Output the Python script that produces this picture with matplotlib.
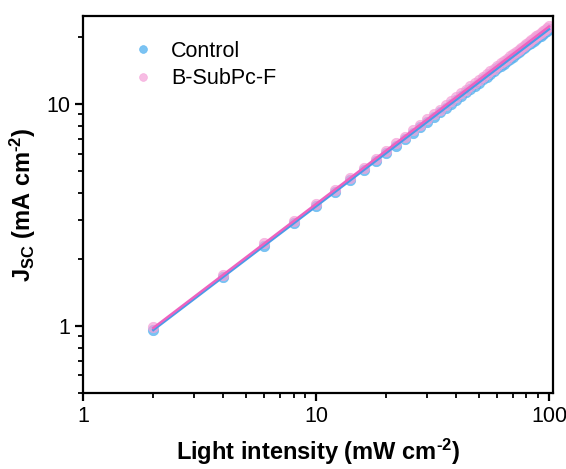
import matplotlib.pyplot as plt
import numpy as np

# light intensity (mW cm-2)
intensity = [2, 4, 6, 8, 10, 12, 14, 16, 18, 20, 22, 24, 26, 28, 30, 32, 34, 36, 38, 40,
             42, 44, 46, 48, 50, 52, 54, 56, 58, 60, 62, 64, 66, 68, 70, 72, 74, 76, 78, 80,
             82, 84, 86, 88, 90, 92, 94, 96, 98, 100]

# Jsc (mA cm-2)
jsc_control = [0.96, 1.67, 2.31, 2.91, 3.48, 4.02, 4.55, 5.05, 5.55, 6.03,
               6.51, 6.97, 7.44, 7.89, 8.34, 8.78, 9.21, 9.64, 10.07, 10.50,
               10.91, 11.32, 11.73, 12.14, 12.53, 12.94, 13.33, 13.72, 14.11, 14.50,
               14.88, 15.26, 15.64, 16.01, 16.40, 16.77, 17.14, 17.50, 17.88, 18.24,
               18.60, 18.96, 19.32, 19.68, 20.03, 20.38, 20.74, 21.09, 21.43, 21.81]
jsc_subpc = [0.99, 1.70, 2.36, 2.97, 3.55, 4.11, 4.65, 5.17, 5.68, 6.18,
             6.67, 7.15, 7.63, 8.09, 8.55, 9.01, 9.45, 9.89, 10.33, 10.77,
             11.20, 11.62, 12.04, 12.47, 12.87, 13.29, 13.69, 14.09, 14.49, 14.90,
             15.29, 15.68, 16.07, 16.45, 16.85, 17.23, 17.61, 17.98, 18.37, 18.74,
             19.11, 19.48, 19.85, 20.22, 20.58, 20.94, 21.31, 21.67, 22.02, 22.41]

labels = ['Control', 'B-SubPc-F']
marker_colors = ['#5ab4f0', '#f5a0d8']
line_colors = ['#4a9be8', '#ee62bf']

plt.rcParams['font.family'] = ['Liberation Sans', 'DejaVu Sans']
plt.rcParams['mathtext.fontset'] = 'custom'
plt.rcParams['mathtext.rm'] = 'Liberation Sans:bold'
plt.rcParams['mathtext.it'] = 'Liberation Sans:bold'
plt.rcParams['mathtext.bf'] = 'Liberation Sans:bold'

fig = plt.figure(figsize=(5.66, 4.69), dpi=100)
ax = fig.add_axes([0.147, 0.162, 0.830, 0.804])

x = np.array(intensity)
alphas = [0.8, 0.7]
for ys, lab, mc, lc, a in zip([jsc_control, jsc_subpc], labels, marker_colors, line_colors, alphas):
    ys = np.array(ys)
    ax.plot(x, ys, 'o', color=mc, markersize=7.5, alpha=a, markeredgecolor=mc,
            markeredgewidth=0.5, label=lab, zorder=2)
    # linear fit in log-log space
    p = np.polyfit(np.log10(x), np.log10(ys), 1)
    ax.plot(x, 10 ** np.polyval(p, np.log10(x)), '-', color=lc, linewidth=1.8, zorder=3)

ax.set_xscale('log')
ax.set_yscale('log')
ax.set_xlim(1, 104)
ax.set_ylim(0.5, 25)
ax.set_xticks([1, 10, 100])
ax.set_xticklabels(['1', '10', '100'])
ax.set_yticks([1, 10])
ax.set_yticklabels(['1', '10'])

for s in ax.spines.values():
    s.set_linewidth(1.6)
ax.tick_params(which='major', direction='out', length=6, width=1.6, labelsize=15.5,
               top=False, right=False)
ax.tick_params(which='minor', direction='out', length=3.5, width=1.3, top=False, right=False)

ax.set_xlabel(r'Light intensity (mW cm$^{\text{-}2}$)', fontsize=17, fontweight='bold', labelpad=7)
ax.set_ylabel(r'J$_{SC}$ (mA cm$^{\text{-}2}$)', fontsize=17, fontweight='bold', labelpad=6)

ax.legend(loc='upper left', frameon=False, fontsize=15.5, markerscale=0.75,
          handletextpad=0.5, handlelength=1.6, bbox_to_anchor=(0.05, 0.985),
          labelspacing=0.3)

plt.savefig('out.png', dpi=100)
